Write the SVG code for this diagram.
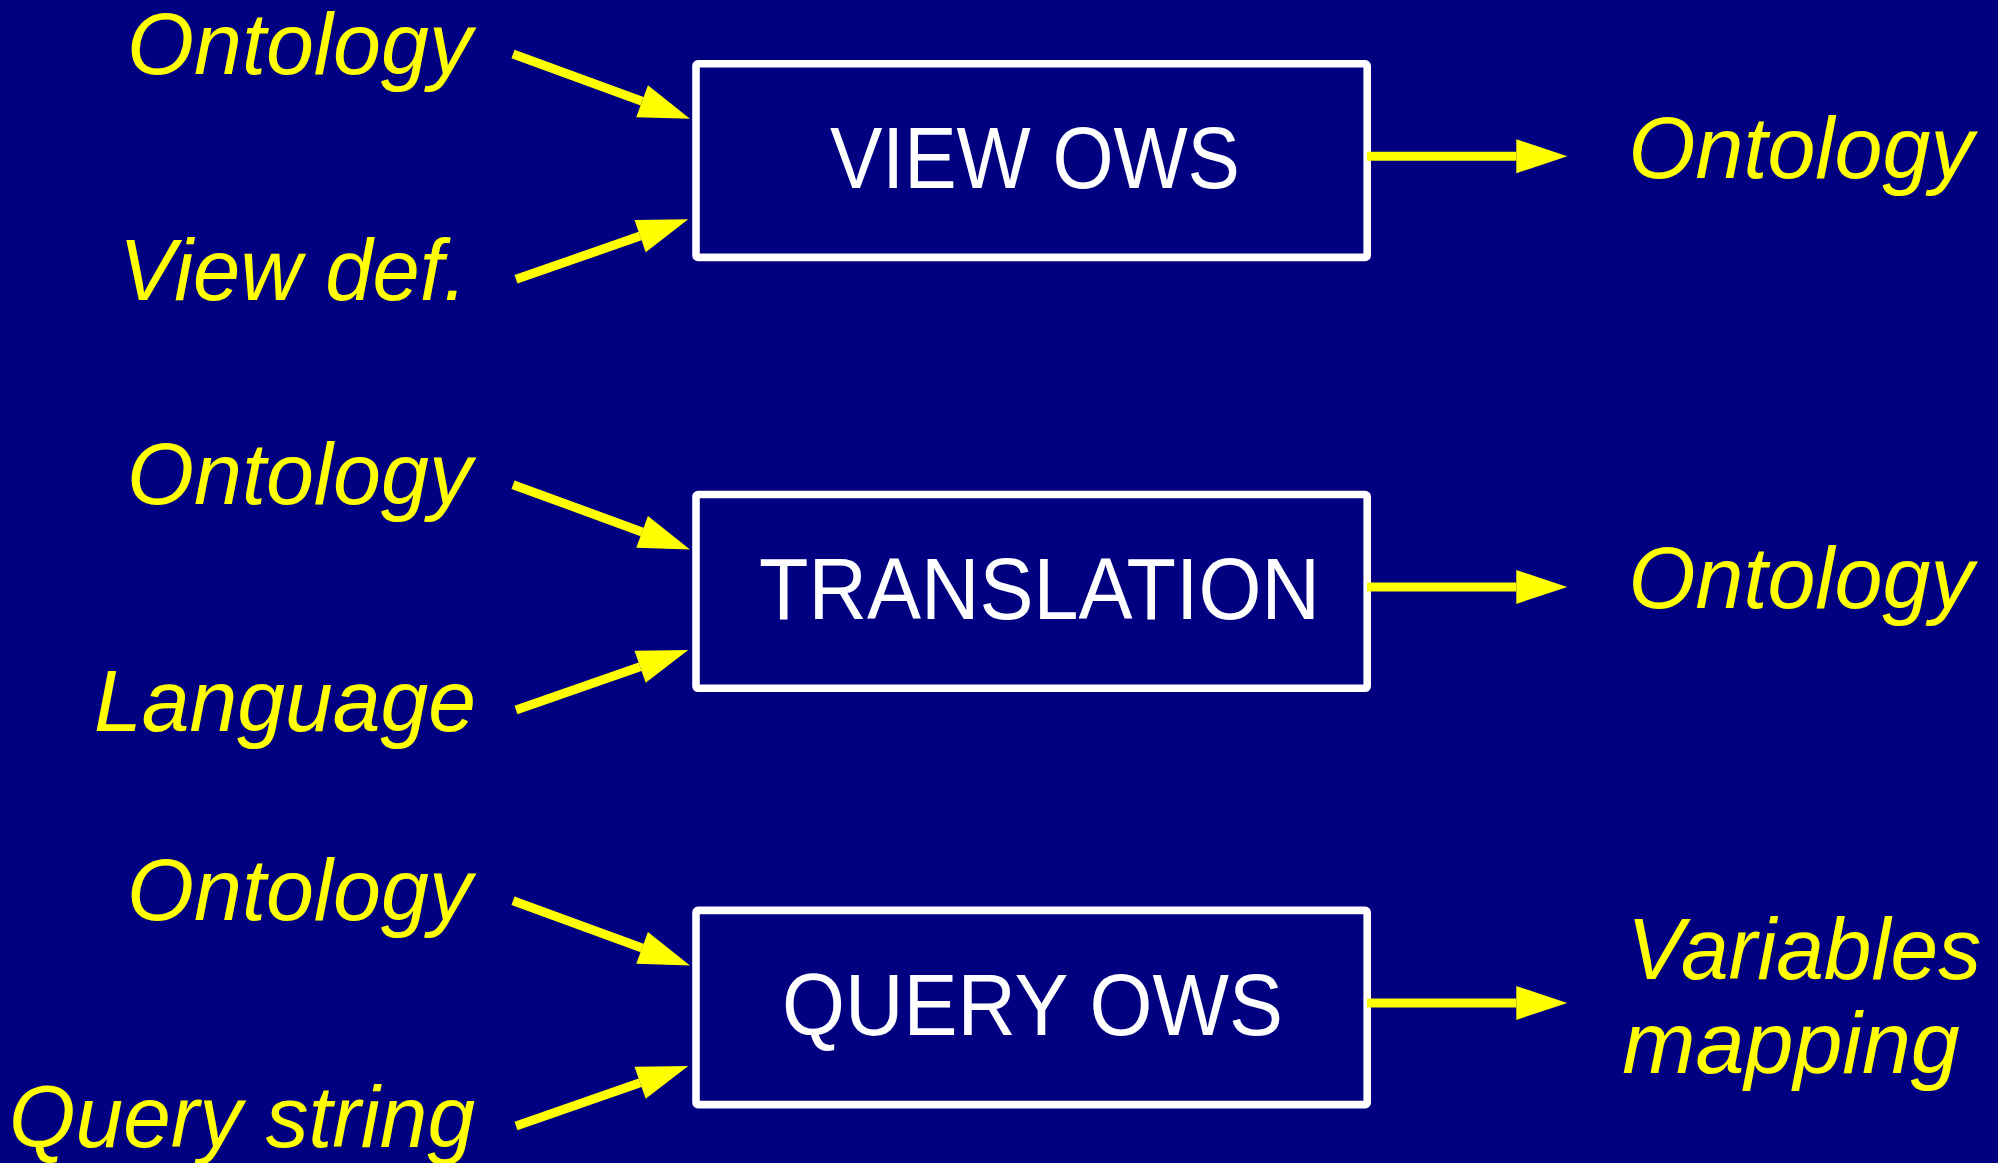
<svg xmlns="http://www.w3.org/2000/svg" width="1998" height="1163" viewBox="0 0 1998 1163">
  <style>
    .bg { fill: #000080; }
    .box { fill: #000080; stroke: #FFFFFF; stroke-width: 7.6; }
    .title { fill: #FFFFFF; font-family: "Liberation Sans", Arial, sans-serif; font-size: 88px; }
    .io { fill: #FFFF00; font-family: "Liberation Sans", Arial, sans-serif; font-size: 88px; font-style: italic; }
    .in { text-anchor: end; }
    .out { text-anchor: middle; }
    .link { stroke: #FFFF00; stroke-width: 9; fill: none; marker-end: url(#head); }
  </style>
  <defs>
    <marker id="head" markerUnits="userSpaceOnUse" markerWidth="52" markerHeight="36" refX="0" refY="17" orient="auto" overflow="visible">
      <path d="M0,0 L51,17 L0,34 Z" fill="#FFFF00"/>
    </marker>
  </defs>

  <rect class="bg" x="0" y="0" width="1998" height="1163"/>

  <!-- process boxes -->
  <g id="view-ows">
    <rect class="box" x="696" y="63.8" width="671.2" height="193.6" rx="2"/>
    <text class="title" x="830" y="188.3" textLength="410" lengthAdjust="spacingAndGlyphs">VIEW OWS</text>
  </g>
  <g id="translation">
    <rect class="box" x="696" y="494.5" width="671.2" height="193.8" rx="2"/>
    <text class="title" x="759" y="619" textLength="561" lengthAdjust="spacingAndGlyphs">TRANSLATION</text>
  </g>
  <g id="query-ows">
    <rect class="box" x="696" y="910.4" width="671.2" height="194.2" rx="2"/>
    <text class="title" x="782" y="1034.5" textLength="501" lengthAdjust="spacingAndGlyphs">QUERY OWS</text>
  </g>

  <!-- inputs -->
  <g id="in-ontology-1"><text class="io in" x="472" y="74" textLength="345" lengthAdjust="spacingAndGlyphs">Ontology</text></g>
  <g id="in-viewdef"><text class="io in" x="467" y="300" textLength="348" lengthAdjust="spacingAndGlyphs">View def.</text></g>
  <g id="in-ontology-2"><text class="io in" x="472" y="504" textLength="345" lengthAdjust="spacingAndGlyphs">Ontology</text></g>
  <g id="in-language"><text class="io in" x="476" y="730.7" textLength="382" lengthAdjust="spacingAndGlyphs">Language</text></g>
  <g id="in-ontology-3"><text class="io in" x="472" y="920" textLength="345" lengthAdjust="spacingAndGlyphs">Ontology</text></g>
  <g id="in-query"><text class="io in" x="475" y="1146.7" textLength="466" lengthAdjust="spacingAndGlyphs">Query string</text></g>

  <!-- outputs -->
  <g id="out-ontology-1"><text class="io out" x="1801" y="177.7" textLength="345" lengthAdjust="spacingAndGlyphs">Ontology</text></g>
  <g id="out-ontology-2"><text class="io out" x="1801" y="608.4" textLength="345" lengthAdjust="spacingAndGlyphs">Ontology</text></g>
  <g id="out-mapping">
    <text class="io out" x="1804" y="979" textLength="354" lengthAdjust="spacingAndGlyphs">Variables</text>
    <text class="io out" x="1791" y="1073">mapping</text>
  </g>

  <!-- connectors -->
  <g id="connectors">
    <line class="link" x1="513" y1="54" x2="642.1" y2="101.2"/>
    <line class="link" x1="516" y1="279.3" x2="640.1" y2="236.1"/>
    <line class="link" x1="1367" y1="156.2" x2="1516.3" y2="156.2"/>

    <line class="link" x1="513" y1="484.7" x2="642.1" y2="531.9"/>
    <line class="link" x1="516" y1="710" x2="640.1" y2="666.8"/>
    <line class="link" x1="1367" y1="586.9" x2="1516.3" y2="586.9"/>

    <line class="link" x1="513" y1="900.7" x2="642.1" y2="947.9"/>
    <line class="link" x1="516" y1="1126" x2="640.1" y2="1082.8"/>
    <line class="link" x1="1367" y1="1002.9" x2="1516.3" y2="1002.9"/>
  </g>
</svg>
